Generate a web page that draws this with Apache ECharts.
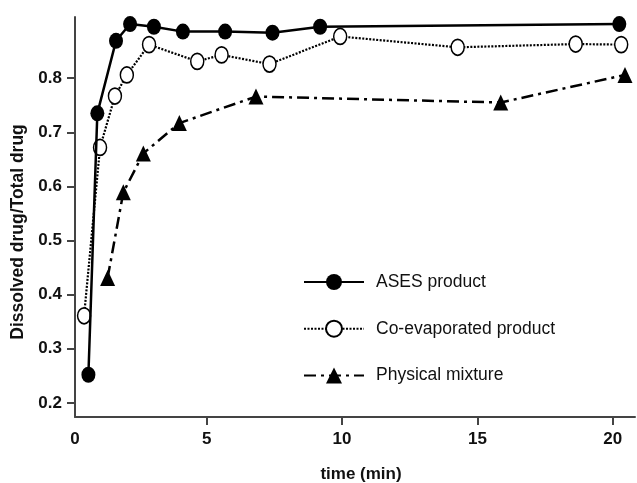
<!DOCTYPE html>
<html>
<head>
<meta charset="utf-8">
<script src="https://cdn.jsdelivr.net/npm/echarts@6/dist/echarts.min.js"></script>
<style>
html,body{margin:0;padding:0;background:#fff;overflow:hidden;}
#chart{width:637px;height:483px;}
</style>
</head>
<body>
<div id="chart"></div>
<script>
// ---- data ----
const seriesNames = ['ASES product', 'Co-evaporated product', 'Physical mixture'];
const timeAses = [0.63, 0.96, 1.65, 2.17, 3.05, 4.12, 5.68, 7.43, 9.19, 20.24];
const valAses = [0.252, 0.735, 0.869, 0.900, 0.895, 0.886, 0.886, 0.884, 0.895, 0.900];
const timeCoevap = [0.47, 1.06, 1.61, 2.05, 2.87, 4.65, 5.55, 7.32, 9.93, 14.27, 18.63, 20.31];
const valCoevap = [0.361, 0.672, 0.767, 0.806, 0.862, 0.831, 0.843, 0.826, 0.877, 0.857, 0.863, 0.862];
const timePhys = [1.34, 1.92, 2.66, 3.99, 6.82, 15.86, 20.45];
const valPhys = [0.431, 0.589, 0.661, 0.717, 0.766, 0.755, 0.806];
const xTickValues = [0.135, 5, 10, 15, 20];
const yTickValues = [0.2, 0.3, 0.4, 0.5, 0.6, 0.7, 0.8];

const zip = (xs, ys) => xs.map((x, i) => [x, ys[i]]);
const FONT = '"Liberation Sans", Arial, sans-serif';

const chart = echarts.init(document.getElementById('chart'), null, {renderer: 'canvas'});
chart.setOption({
  backgroundColor: '#fff',
  animation: false,
  grid: {left: 75, right: 2, top: 17, bottom: 66, containLabel: false, outerBoundsMode: 'none'},
  legend: {
    orient: 'vertical',
    left: 303,
    top: 272,
    padding: 0,
    itemWidth: 60,
    itemHeight: 20,
    itemGap: 26.7,
    data: seriesNames,
    textStyle: {fontFamily: FONT, fontSize: 17.5, color: '#111', lineHeight: 20, padding: [0, 0, 0, 7]}
  },
  xAxis: {
    type: 'value',
    min: 0.135,
    max: 20.82,
    name: 'time (min)',
    nameLocation: 'middle',
    nameGap: 49,
    nameTextStyle: {fontFamily: FONT, fontSize: 17, fontWeight: 'bold', color: '#111', padding: [0, 0, 0, 12]},
    axisLine: {show: true, lineStyle: {color: '#444', width: 2}},
    axisTick: {show: true, length: 8, lineStyle: {color: '#444', width: 2}, customValues: xTickValues.slice(1)},
    axisLabel: {
      show: true, margin: 14, fontFamily: FONT, fontSize: 17, fontWeight: 'bold', color: '#111',
      customValues: xTickValues,
      formatter: v => String(Math.round(v))
    },
    splitLine: {show: false}
  },
  yAxis: {
    type: 'value',
    min: 0.174,
    max: 0.913,
    name: 'Dissolved drug/Total drug',
    nameLocation: 'middle',
    nameGap: 47,
    nameTextStyle: {fontFamily: FONT, fontSize: 17.5, fontWeight: 'bold', color: '#111', padding: [0, 30, 0, 0]},
    axisLine: {show: true, lineStyle: {color: '#444', width: 2}},
    axisTick: {show: true, length: 8, lineStyle: {color: '#444', width: 2}, customValues: yTickValues},
    axisLabel: {
      show: true, margin: 13, fontFamily: FONT, fontSize: 17, fontWeight: 'bold', color: '#111',
      customValues: yTickValues,
      formatter: v => v.toFixed(1)
    },
    splitLine: {show: false}
  },
  series: [
    {
      name: seriesNames[0],
      type: 'line',
      data: zip(timeAses, valAses),
      symbol: 'circle',
      symbolSize: [14, 16],
      lineStyle: {color: '#000', width: 2.5, type: 'solid'},
      itemStyle: {color: '#000', borderColor: '#000', borderWidth: 0},
      z: 3
    },
    {
      name: seriesNames[1],
      type: 'line',
      data: zip(timeCoevap, valCoevap),
      symbol: 'circle',
      symbolSize: [13, 16],
      lineStyle: {color: '#000', width: 2.2, type: [2, 1.5]},
      itemStyle: {color: '#fff', borderColor: '#000', borderWidth: 1.6},
      z: 2
    },
    {
      name: seriesNames[2],
      type: 'line',
      data: zip(timePhys, valPhys),
      symbol: 'triangle',
      symbolSize: [15, 16],
      lineStyle: {color: '#000', width: 2.5, type: [12, 5, 3, 5]},
      itemStyle: {color: '#000', borderColor: '#000', borderWidth: 0},
      z: 2
    }
  ]
});
</script>
</body>
</html>
